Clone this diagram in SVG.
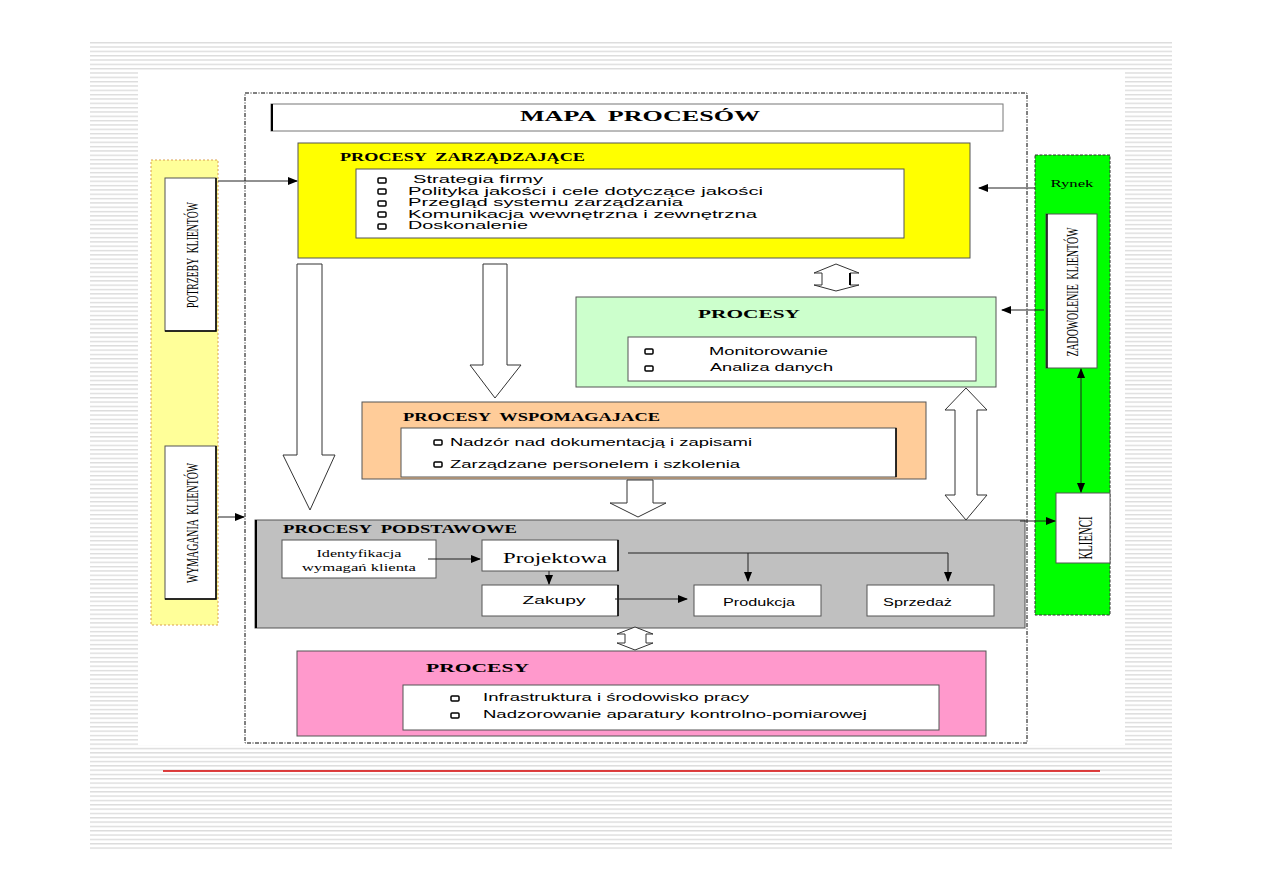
<svg xmlns="http://www.w3.org/2000/svg" width="1263" height="893" viewBox="0 0 1263 893">
<defs>
<pattern id="stripes" patternUnits="userSpaceOnUse" x="0" y="42" width="20" height="4.33">
<rect x="0" y="0" width="20" height="1.4" fill="#dcdcdc"/>
</pattern>
<marker id="ah" markerUnits="userSpaceOnUse" markerWidth="10" markerHeight="8" refX="9" refY="4" orient="auto">
<path d="M0,0 L10,4 L0,8 z" fill="#000"/>
</marker>
<marker id="ahs" markerUnits="userSpaceOnUse" markerWidth="10" markerHeight="8" refX="9" refY="4" orient="auto-start-reverse">
<path d="M0,0 L10,4 L0,8 z" fill="#000"/>
</marker>
</defs>
<style>
.title{font-family:"Liberation Serif",serif;font-weight:bold;fill:#000;white-space:pre}
.item{font-family:"Liberation Sans",Arial,sans-serif;fill:#000}
.serif{font-family:"Liberation Serif",serif;fill:#000;white-space:pre}
.box{fill:#fff;stroke:#555;stroke-width:1}
.blk{fill:#fff;stroke:#333;stroke-width:1}
.bul{fill:#fff;stroke:#000;stroke-width:1.5}
.conn{stroke:#222;stroke-width:1;fill:none}
</style>

<!-- page background -->
<rect x="90" y="42" width="1082" height="808" fill="url(#stripes)"/>
<rect x="138" y="72" width="987" height="673" fill="#fff"/>
<line x1="163" y1="771" x2="1100" y2="771" stroke="#d40000" stroke-width="1.5"/>

<!-- outer dashed frame -->
<rect x="245" y="93" width="782" height="650" fill="none" stroke="#000" stroke-width="1" stroke-dasharray="4,1.5,1,1.5"/>

<g id="title">
<rect x="271" y="104" width="732" height="27" fill="#fff" stroke="#777" stroke-width="1"/>
<line x1="272" y1="104" x2="272" y2="131" stroke="#000" stroke-width="2"/>
<text class="title" x="520" y="121" font-size="15" textLength="240" lengthAdjust="spacingAndGlyphs">MAPA  PROCESÓW</text>
</g>

<g id="left-panel">
<rect x="151" y="160" width="67" height="465" fill="#ffff99" stroke="#d9a050" stroke-width="1" stroke-dasharray="2,2"/>
</g>
<g id="potrzeby">
<rect x="165" y="178" width="51" height="153" class="box"/>
<path d="M216,178 V331 H165" fill="none" stroke="#000" stroke-width="1.5"/>
<text class="serif" transform="translate(198,255) rotate(-90)" x="0" y="0" text-anchor="middle" font-size="16.5" textLength="106" lengthAdjust="spacingAndGlyphs">POTRZEBY  KLIENTÓW</text>
</g>
<g id="wymagania">
<rect x="165" y="446" width="51" height="153" class="box"/>
<path d="M216,446 V599 H165" fill="none" stroke="#000" stroke-width="1.5"/>
<text class="serif" transform="translate(198,523) rotate(-90)" x="0" y="0" text-anchor="middle" font-size="16.5" textLength="120" lengthAdjust="spacingAndGlyphs">WYMAGANIA  KLIENTÓW</text>
</g>

<g id="right-panel">
<rect x="1035" y="155" width="75" height="460" fill="#00ff00" stroke="#333" stroke-width="1" stroke-dasharray="3,1.5"/>
<text class="serif" x="1072" y="187" font-size="10" text-anchor="middle" textLength="43" lengthAdjust="spacingAndGlyphs">Rynek</text>
</g>
<g id="zadowolenie">
<rect x="1046" y="214" width="51" height="154" class="box"/>
<line x1="1047" y1="214" x2="1047" y2="368" stroke="#000" stroke-width="1.5"/>
<text class="serif" transform="translate(1078,292) rotate(-90)" x="0" y="0" text-anchor="middle" font-size="16.5" textLength="129" lengthAdjust="spacingAndGlyphs">ZADOWOLENIE  KLIENTÓW</text>
</g>
<g id="klienci">
<rect x="1056" y="493" width="54" height="70" class="box"/>
<text class="serif" transform="translate(1092,538) rotate(-90)" x="0" y="0" text-anchor="middle" font-size="18" textLength="43" lengthAdjust="spacingAndGlyphs">KLIENCI</text>
</g>

<g id="zarzadzajace">
<rect x="298" y="143" width="672" height="115" fill="#ffff00" stroke="#555" stroke-width="1"/>
<text class="title" x="340" y="161" font-size="11.5" textLength="245" lengthAdjust="spacingAndGlyphs">PROCESY  ZARZĄDZAJĄCE</text>
<rect x="356" y="169" width="548" height="69" class="box"/>
<rect x="378" y="178" width="8" height="5" rx="1" class="bul"/>
<rect x="378" y="189" width="8" height="5" rx="1" class="bul"/>
<rect x="378" y="201" width="8" height="5" rx="1" class="bul"/>
<rect x="378" y="212" width="8" height="5" rx="1" class="bul"/>
<rect x="378" y="224" width="8" height="5" rx="1" class="bul"/>
<text class="item" x="413" y="183" font-size="11" textLength="130" lengthAdjust="spacingAndGlyphs">Strategia firmy</text>
<text class="item" x="408" y="194.5" font-size="11" textLength="355" lengthAdjust="spacingAndGlyphs">Polityka jakości i cele dotyczące jakości</text>
<text class="item" x="408" y="206" font-size="11" textLength="275" lengthAdjust="spacingAndGlyphs">Przegląd systemu zarządzania</text>
<text class="item" x="408" y="217.5" font-size="11" textLength="349" lengthAdjust="spacingAndGlyphs">Komunikacja wewnętrzna i zewnętrzna</text>
<text class="item" x="408" y="229" font-size="11" textLength="120" lengthAdjust="spacingAndGlyphs">Doskonalenie</text>
</g>

<g id="pomiarowe">
<rect x="576" y="297" width="420" height="90" fill="#ccffcc" stroke="#555" stroke-width="1"/>
<text class="title" x="698" y="318" font-size="13" textLength="102" lengthAdjust="spacingAndGlyphs">PROCESY</text>
<rect x="628" y="337" width="348" height="44" class="box"/>
<rect x="645" y="349" width="8" height="5" rx="1" class="bul"/>
<rect x="645" y="366" width="8" height="5" rx="1" class="bul"/>
<text class="item" x="709" y="355" font-size="11.5" textLength="119" lengthAdjust="spacingAndGlyphs">Monitorowanie</text>
<text class="item" x="710" y="371" font-size="11.5" textLength="123" lengthAdjust="spacingAndGlyphs">Analiza danych</text>
</g>

<g id="wspomagajace">
<rect x="362" y="402" width="564" height="77" fill="#ffcc99" stroke="#555" stroke-width="1"/>
<text class="title" x="403" y="421" font-size="11.5" textLength="257" lengthAdjust="spacingAndGlyphs">PROCESY  WSPOMAGAJACE</text>
<rect x="401" y="428" width="495" height="49" class="box"/>
<line x1="896" y1="428" x2="896" y2="477" stroke="#000" stroke-width="1.5"/>
<rect x="434" y="440" width="8" height="5" rx="1" class="bul"/>
<rect x="434" y="462" width="8" height="5" rx="1" class="bul"/>
<text class="item" x="450" y="446" font-size="11.5" textLength="302" lengthAdjust="spacingAndGlyphs">Nadzór nad dokumentacją i zapisami</text>
<text class="item" x="450" y="468" font-size="11.5" textLength="290" lengthAdjust="spacingAndGlyphs">Zarządzane personelem i szkolenia</text>
</g>

<g id="podstawowe">
<rect x="255" y="520" width="770" height="108" fill="#c0c0c0" stroke="#555" stroke-width="1"/>
<line x1="256" y1="520" x2="256" y2="628" stroke="#000" stroke-width="2"/>
<text class="title" x="283" y="533" font-size="11.5" textLength="234" lengthAdjust="spacingAndGlyphs">PROCESY  PODSTAWOWE</text>
</g>
<g id="identyfikacja">
<rect x="282" y="540" width="154" height="38" class="box"/>
<text class="serif" x="359" y="557" font-size="11" text-anchor="middle" textLength="85" lengthAdjust="spacingAndGlyphs">Identyfikacja</text>
<text class="serif" x="359" y="571" font-size="11" text-anchor="middle" textLength="114" lengthAdjust="spacingAndGlyphs">wymagań klienta</text>
</g>
<g id="projektowa">
<rect x="482" y="540" width="136" height="31" class="box"/>
<line x1="618" y1="540" x2="618" y2="571" stroke="#000" stroke-width="1.5"/>
<text class="serif" x="555" y="563" font-size="14" text-anchor="middle" textLength="104" lengthAdjust="spacingAndGlyphs">Projektowa</text>
</g>
<g id="zakupy">
<rect x="482" y="585" width="136" height="31" class="box"/>
<line x1="618" y1="585" x2="618" y2="616" stroke="#000" stroke-width="1.5"/>
<text class="item" x="554" y="604" font-size="11" text-anchor="middle" textLength="63" lengthAdjust="spacingAndGlyphs">Zakupy</text>
</g>
<g id="produkcja">
<rect x="694" y="585" width="127" height="31" class="box"/>
<text class="item" x="723" y="606" font-size="10" textLength="72" lengthAdjust="spacingAndGlyphs">Produkcja</text>
</g>
<g id="sprzedaz">
<rect x="867" y="585" width="127" height="31" class="box"/>
<text class="item" x="883" y="606" font-size="10" textLength="69" lengthAdjust="spacingAndGlyphs">Sprzedaż</text>
</g>

<g id="infrastruktura">
<rect x="297" y="651" width="689" height="85" fill="#ff99cc" stroke="#555" stroke-width="1"/>
<text class="title" x="426" y="672" font-size="13" textLength="103" lengthAdjust="spacingAndGlyphs">PROCESY</text>
<rect x="403" y="685" width="536" height="45" class="box"/>
<rect x="451" y="696" width="8" height="5" rx="1" class="bul"/>
<rect x="451" y="713" width="8" height="5" rx="1" class="bul"/>
<text class="item" x="483" y="701" font-size="11.5" textLength="266" lengthAdjust="spacingAndGlyphs">Infrastruktura i środowisko pracy</text>
<text class="item" x="483" y="718" font-size="11.5" textLength="384" lengthAdjust="spacingAndGlyphs">Nadzorowanie aparatury kontrolno-pomiarowej</text>
</g>

<g id="connectors">
<!-- block arrows -->
<polygon class="blk" points="297,264 322,264 322,455 335,455 310,510 283,455 297,455"/>
<polygon class="blk" points="483,264 507,264 507,365 521,365 495,398 470,365 483,365"/>
<polygon class="blk" points="627,480 653,480 653,503 666,503 638,517 610,503 627,503"/>
<polygon class="blk" points="966,388 987,410 977,410 977,495 987,495 966,520 945,495 955,495 955,410 945,410"/>
<polygon class="blk" points="836,264 859,273 850,273 850,285 859,285 836,291 814,285 822,285 822,273 814,273"/>
<line x1="850" y1="273" x2="850" y2="285" stroke="#000" stroke-width="2"/>
<polygon class="blk" points="635,627 653,634 646,634 646,643 653,643 635,650 617,643 625,643 625,634 617,634"/>
<!-- line arrows -->
<line class="conn" x1="218" y1="181" x2="297" y2="181" marker-end="url(#ah)"/>
<line class="conn" x1="218" y1="517" x2="244" y2="517" marker-end="url(#ah)"/>
<line class="conn" x1="1035" y1="188" x2="979" y2="188" marker-end="url(#ah)"/>
<line class="conn" x1="1044" y1="310" x2="1002" y2="310" marker-end="url(#ah)"/>
<line class="conn" x1="1081" y1="369" x2="1081" y2="492" stroke-width="1.5" marker-start="url(#ahs)" marker-end="url(#ah)"/>
<line class="conn" x1="1020" y1="521" x2="1055" y2="521" marker-end="url(#ah)"/>
<line class="conn" x1="428" y1="559" x2="480" y2="559" marker-end="url(#ah)"/>
<line class="conn" x1="549" y1="571" x2="549" y2="584" stroke-width="1.5" marker-end="url(#ah)"/>
<polyline class="conn" points="628,553 948,553"/>
<line class="conn" x1="748" y1="553" x2="748" y2="581" marker-end="url(#ah)"/>
<line class="conn" x1="948" y1="553" x2="948" y2="581" marker-end="url(#ah)"/>
<line class="conn" x1="615" y1="599" x2="687" y2="599" marker-end="url(#ah)"/>
</g>
</svg>
